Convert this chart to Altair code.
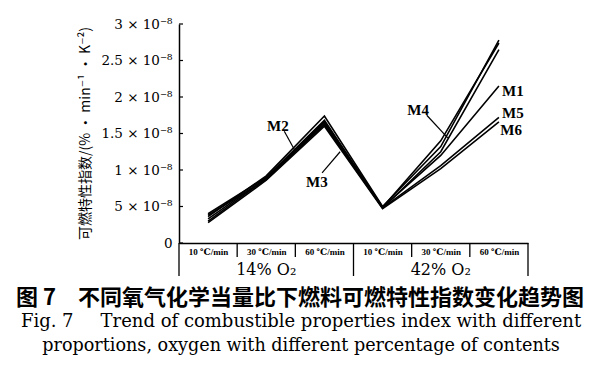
import json
import altair as alt
import pandas as pd

# ---------------- data (values in units of 1e-8) ----------------
conditions = ["14%-10", "14%-30", "14%-60", "42%-10", "42%-30", "42%-60"]
rate_labels = ["10 ℃/min", "30 ℃/min", "60 ℃/min", "10 ℃/min", "30 ℃/min", "60 ℃/min"]
group_labels = ["14% O₂", "42% O₂"]
series_names = ["M1", "M2", "M3", "M4", "M5", "M6"]
M1 = [0.40, 0.90, 1.68, 0.49, 1.20, 2.15]
M2 = [0.36, 0.92, 1.74, 0.50, 1.32, 2.78]
M3 = [0.30, 0.88, 1.62, 0.48, 1.25, 2.65]
M4 = [0.33, 0.89, 1.66, 0.49, 1.40, 2.74]
M5 = [0.38, 0.87, 1.64, 0.48, 1.06, 1.72]
M6 = [0.28, 0.86, 1.60, 0.47, 1.02, 1.66]
y_ticks = [0, 0.5, 1, 1.5, 2, 2.5, 3]
y_tick_labels = ["0", "5 × 10⁻⁸", "1 × 10⁻⁸", "1.5 × 10⁻⁸", "2 × 10⁻⁸", "2.5 × 10⁻⁸", "3 × 10⁻⁸"]
y_title = "可燃特性指数/(% · min⁻¹ · K⁻²)"

# annotation labels (data coordinates) and leader lines
ann_names = ["M2", "M3", "M4", "M1", "M5", "M6"]
ann_x = [1.70, 2.37, 4.11, 5.74, 5.74, 5.71]
ann_y = [1.60, 0.84, 1.82, 2.08, 1.78, 1.55]
lead_x1 = [1.81, 2.46, 4.26]
lead_y1 = [1.53, 0.96, 1.75]
lead_x2 = [1.99, 2.77, 4.62]
lead_y2 = [1.27, 1.25, 1.44]

caption_cn = "图 7\u2003不同氧气化学当量比下燃料可燃特性指数变化趋势图"
caption_en1 = "Fig. 7\u2003\u2002Trend of combustible properties index with different"
caption_en2 = "proportions, oxygen with different percentage of contents"

# ---------------- tables ----------------
all_series = [M1, M2, M3, M4, M5, M6]
rows = []
for name, vals in zip(series_names, all_series):
    for i, (c, v) in enumerate(zip(conditions, vals)):
        rows.append({"series": name, "cond": c, "pos": i + 0.5, "value": v})
df = pd.DataFrame(rows)
ann = pd.DataFrame({"name": ann_names, "x": ann_x, "y": ann_y})
leads = pd.DataFrame({"x1": lead_x1, "y1": lead_y1, "x2": lead_x2, "y2": lead_y2})
bounds_inner = pd.DataFrame({"b": [1, 2, 4, 5]})
bounds_outer = pd.DataFrame({"b": [0, 3, 6]})
groups = pd.DataFrame({"g": group_labels, "x": [1.5, 4.5]})
yt = pd.DataFrame({"v": y_ticks})

W, H = 349, 219
serif = "'DejaVu Serif', 'Liberation Serif', 'Noto Sans CJK SC'"
serif2 = "'Liberation Serif', 'DejaVu Serif', 'Noto Sans CJK SC'"
cjk = "'Noto Sans CJK SC', 'DejaVu Serif'"

xscale = alt.Scale(domain=[0, 6], nice=False, zero=False)
yscale = alt.Scale(domain=[0, 3], nice=False)

x_axis = alt.Axis(
    values=[0.5, 1.5, 2.5, 3.5, 4.5, 5.5],
    labelExpr=json.dumps(rate_labels) + "[floor(datum.value)]",
    ticks=False, grid=False, title=None,
    labelFont=serif2, labelFontSize=9, labelFontWeight="bold", labelColor="black",
    labelPadding=4, labelFlush=False, labelOverlap=False,
    domainColor="black", domainWidth=1.5,
)
y_axis = alt.Axis(
    values=y_ticks,
    labelExpr=json.dumps(y_tick_labels) + "[round(datum.value*2)]",
    ticks=False, grid=False,
    labelFont=serif, labelFontSize=13.5, labelColor="black", labelPadding=7,
    labelFlush=False, labelOverlap=False,
    domainColor="black", domainWidth=1.5,
    title=y_title, titleFont=cjk, titleFontSize=14, titleFontWeight="normal",
    titleColor="black", titleAngle=270, titleX=-94, titleY=109,
    titleAlign="center", titleBaseline="middle",
)


def X(f):
    return alt.X(f, scale=xscale, axis=x_axis)


def Y(f):
    return alt.Y(f, scale=yscale, axis=y_axis)


lines = alt.Chart(df).mark_line(color="black", strokeWidth=1.6).encode(
    x=X("pos:Q"), y=Y("value:Q"), detail="series:N",
)

labels = alt.Chart(ann).mark_text(
    font=serif2, fontSize=15, fontWeight="bold", color="black"
).encode(x=X("x:Q"), y=Y("y:Q"), text="name:N")

leaders = alt.Chart(leads).mark_rule(color="black", strokeWidth=1.2).encode(
    x=X("x1:Q"), y=Y("y1:Q"), x2="x2:Q", y2="y2:Q",
)

yticks = alt.Chart(yt).mark_rule(color="black", strokeWidth=1.2).encode(
    y=Y("v:Q"), x=alt.value(0), x2=alt.value(4)
)

inner = alt.Chart(bounds_inner).mark_rule(color="black", strokeWidth=1.3).encode(
    x=X("b:Q"), y=alt.value(H), y2=alt.value(H + 14)
)
outer = alt.Chart(bounds_outer).mark_rule(color="black", strokeWidth=1.3).encode(
    x=X("b:Q"), y=alt.value(H), y2=alt.value(H + 33)
)
grp = alt.Chart(groups).mark_text(
    font=serif, fontSize=16, color="black", baseline="middle"
).encode(x=X("x:Q"), y=alt.value(H + 27), text="g:N")

cap1 = alt.Chart(pd.DataFrame({"t": [caption_cn]})).mark_text(
    font=cjk, fontSize=22, fontWeight="bold", color="black", baseline="middle"
).encode(text="t:N", x=alt.value(300 - 179), y=alt.value(298 - 24))
cap2 = alt.Chart(pd.DataFrame({"t": [caption_en1]})).mark_text(
    font=serif, fontSize=18, color="black", baseline="middle"
).encode(text="t:N", x=alt.value(301 - 179), y=alt.value(322 - 24))
cap3 = alt.Chart(pd.DataFrame({"t": [caption_en2]})).mark_text(
    font=serif, fontSize=17.6, color="black", baseline="middle"
).encode(text="t:N", x=alt.value(301 - 179), y=alt.value(346 - 24))

chart = alt.layer(
    lines, labels, leaders, yticks, inner, outer, grp, cap1, cap2, cap3
).properties(
    width=W, height=H,
    autosize=alt.AutoSizeParams(type="none"),
    padding={"left": 171, "top": 16, "right": 64, "bottom": 118},
    background="white",
).configure_view(stroke=None)

chart.save("out.html", embed_options={"renderer": "svg", "actions": False})
